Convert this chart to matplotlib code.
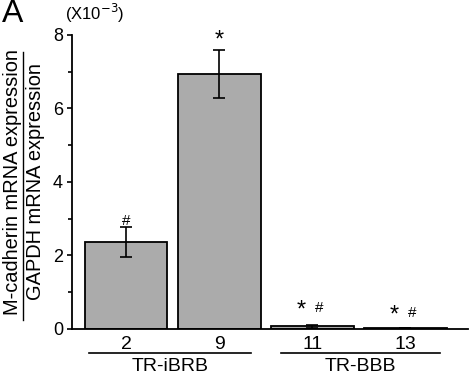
import matplotlib
matplotlib.use('Agg')
import matplotlib.pyplot as plt
from matplotlib.lines import Line2D

plt.rcParams['font.family'] = ['Liberation Sans', 'DejaVu Sans']

# data (x10^-3)
clones = ['2', '9', '11', '13']
values = [2.37, 6.93, 0.07, 0.03]
errors = [0.41, 0.65, 0.05, 0.0]
groups = ['TR-iBRB', 'TR-BBB']

fig = plt.figure(figsize=(4.71, 3.75), dpi=100)
ax = fig.add_axes([0.153, 0.1227, 0.84, 0.784])

x = list(range(len(clones)))
ax.bar(x, values, width=0.89, color='#ababab', edgecolor='black', linewidth=1.3,
       yerr=errors, error_kw=dict(ecolor='black', elinewidth=1.2, capsize=4, capthick=1.2))

ax.set_xlim(-0.58, 3.67)
ax.set_ylim(0, 8)
ax.set_yticks([0, 2, 4, 6, 8])
ax.set_yticks([1, 3, 5, 7], minor=True)
ax.set_xticks(x)
ax.set_xticklabels(clones, fontsize=14)
ax.tick_params(axis='x', length=0, pad=5)
ax.tick_params(axis='y', which='major', length=3.5, width=1.2, labelsize=13, pad=3)
ax.tick_params(axis='y', which='minor', length=3, width=1.2)
for s in ['top', 'right']:
    ax.spines[s].set_visible(False)
for s in ['left', 'bottom']:
    ax.spines[s].set_linewidth(1.3)

# significance marks
ax.text(0, 2.95, '#', ha='center', va='center', fontsize=11)
ax.text(1, 7.85, '*', ha='center', va='center', fontsize=17, clip_on=False)
for i, y in [(2, 0.5), (3, 0.37)]:
    ax.text(i - 0.12, y, '*', ha='center', va='center', fontsize=17)
    ax.text(i + 0.07, y + 0.07, '#', ha='center', va='center', fontsize=11)

# group lines
tr = ax.get_xaxis_transform()
spans = [(-0.40, 1.34), (1.66, 3.37)]
for (a, b), g in zip(spans, groups):
    ax.plot([a, b], [-0.082, -0.082], color='black', lw=1.2, transform=tr, clip_on=False)
    ax.text((a + b) / 2, -0.128, g, ha='center', va='center', fontsize=14, transform=tr)

# panel label, multiplier, y label
fig.text(0.004, 0.963, 'A', fontsize=23, ha='left', va='center')
fig.text(0.138, 0.963, '(X10$^{-3}$)', fontsize=12, ha='left', va='center')
fig.text(0.026, 0.515, 'M-cadherin mRNA expression', rotation=90, fontsize=14.4,
         ha='center', va='center')
fig.text(0.075, 0.515, 'GAPDH mRNA expression', rotation=90, fontsize=14.4,
         ha='center', va='center')
fig.add_artist(Line2D([0.048, 0.048], [0.148, 0.862], color='black', lw=1.0))

fig.savefig('out.png', dpi=100)
